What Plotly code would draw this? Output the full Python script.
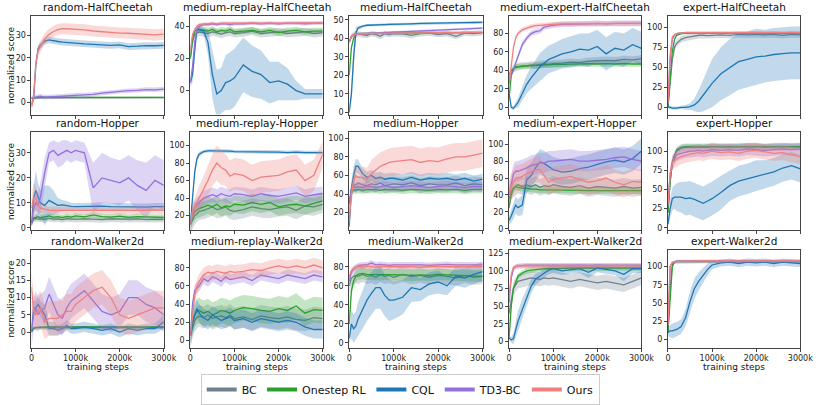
import plotly.graph_objects as go

# training steps (in thousands) at which every curve is sampled
STEPS_K = [0, 50, 100, 150, 200, 300, 400, 500, 600, 700, 800, 900, 1000,
           1200, 1400, 1600, 1800, 2000, 2200, 2400, 2600, 2800, 3000]

METHODS = ["BC", "Onestep RL", "CQL", "TD3-BC", "Ours"]
X_TICKS = [0, 1000, 2000, 3000]
X_TICK_TEXT = ["0", "1000k", "2000k", "3000k"]

# ---------------- HalfCheetah ----------------
random_halfcheetah = {
    "BC": [2.0, 2.1, 2.2, 2.2, 2.2, 2.3, 2.2, 2.2, 2.3, 2.2, 2.2, 2.3, 2.2, 2.2, 2.3, 2.2, 2.2, 2.3, 2.2, 2.2, 2.3, 2.2, 2.2],
    "Onestep RL": [2.0, 2.2, 2.3, 2.3, 2.3, 2.3, 2.3, 2.3, 2.3, 2.3, 2.3, 2.3, 2.3, 2.3, 2.3, 2.3, 2.3, 2.3, 2.3, 2.3, 2.3, 2.3, 2.3],
    "CQL": [-1.0, 2.0, 17.0, 24.0, 25.5, 27.5, 28.0, 27.8, 27.3, 27.0, 26.8, 26.6, 26.5, 26.2, 26.0, 25.8, 25.6, 25.8, 25.0, 25.2, 25.5, 25.4, 25.6],
    "TD3-BC": [2.0, 2.2, 2.3, 2.5, 2.8, 2.4, 2.6, 2.5, 2.7, 2.8, 3.0, 3.0, 3.2, 3.4, 3.6, 4.2, 4.6, 5.0, 5.3, 5.4, 5.8, 5.7, 6.0],
    "Ours": [-2.0, 2.5, 17.5, 23.0, 25.0, 28.5, 30.5, 31.8, 32.6, 33.0, 33.0, 32.9, 32.8, 32.5, 32.0, 31.6, 31.5, 31.1, 31.0, 30.8, 30.5, 30.3, 30.6],
}
random_halfcheetah_sd = {"BC": 0.3, "Onestep RL": 0.4, "CQL": 1.5, "TD3-BC": 1.0, "Ours": 2.5}

medium_replay_halfcheetah = {
    "BC": [20, 30, 35, 36, 36.5, 36, 35.5, 36.5, 36, 35, 36, 36.5, 35.5, 36, 37, 35.5, 36, 36.5, 35.5, 36, 36.5, 35.5, 36],
    "Onestep RL": [20, 33, 37, 38, 38, 37.5, 37, 38, 36.5, 37.5, 37, 38, 36.5, 37, 37.5, 36.5, 37.5, 36, 37, 37.5, 36.5, 37, 37],
    "CQL": [5, 10, 25, 38, 38, 37, 30, 10, -2, 0, 5, 6, 8, 16, 12, 10, 5, 6, 4, 0, -2, -2, -2],
    "TD3-BC": [5, 15, 30, 38, 40, 41, 41, 41.5, 41, 41.5, 41.5, 41, 41.5, 41.5, 42, 41.5, 42, 41.5, 42, 42, 41.5, 42, 42],
    "Ours": [25, 35, 38, 40, 41, 41.5, 41.5, 42, 41.5, 42, 42, 42, 41.8, 42, 42, 42.2, 42, 42.2, 42, 42, 42.3, 42, 42.2],
}
medium_replay_halfcheetah_sd = {
    "BC": 2.5, "Onestep RL": 2, "TD3-BC": 1, "Ours": 1,
    "CQL": [3, 5, 5, 2, 2, 2, 8, 15, 15, 14, 17, 18, 18, 17, 16, 15, 13, 12, 10, 6, 3, 3, 3],
}

medium_halfcheetah = {
    "BC": [38, 41, 42, 42.5, 42.3, 42, 41.5, 42.5, 42, 41, 42.5, 42, 42.5, 42.3, 41.5, 42.5, 42.8, 42, 42.5, 41, 42.8, 42.5, 43],
    "Onestep RL": [20, 35, 40, 42, 42.5, 42.5, 42.6, 42.6, 42.7, 42.7, 42.7, 42.8, 42.8, 42.8, 42.9, 42.9, 42.9, 43, 43, 43, 43, 43, 43],
    "CQL": [0, 10, 30, 43, 45.5, 46.5, 47, 47, 47.2, 47.3, 47.4, 47.5, 47.5, 47.6, 47.8, 48, 48, 48, 48.2, 48.3, 48.4, 48.5, 48.6],
    "TD3-BC": [38, 41, 42, 42.2, 42.3, 42.5, 42.6, 42.7, 42.8, 42.9, 43, 43.1, 43.2, 43.4, 43.6, 43.8, 44, 44.2, 44.4, 44.7, 45, 45.3, 45.5],
    "Ours": [38, 41, 42, 42.3, 42.4, 42.5, 42.5, 42.6, 42.6, 42.7, 42.7, 42.7, 42.8, 42.8, 42.8, 42.9, 42.9, 43, 43, 43, 43.1, 43.1, 43.2],
}
medium_halfcheetah_sd = {
    "BC": 1.5, "Onestep RL": 0.6, "TD3-BC": 0.6, "Ours": 0.6,
    "CQL": [1, 4, 6, 3, 1, 0.7, 0.7, 0.7, 0.7, 0.7, 0.7, 0.7, 0.7, 0.7, 0.7, 0.7, 0.7, 0.7, 0.7, 0.7, 0.7, 0.7, 0.7],
}

medium_expert_halfcheetah = {
    "BC": [35, 40, 42, 43, 44, 45, 45, 46, 45.5, 46.5, 47, 46.5, 47.5, 48, 49, 48.5, 50, 50.5, 51, 50.5, 52, 51.5, 52.5],
    "Onestep RL": [10, 35, 42, 44, 44, 44.5, 45, 45, 45.5, 45.5, 46, 46, 46.5, 46.5, 47, 47, 47.5, 47, 47.5, 47, 47.5, 47, 47],
    "CQL": [15, 0, -1, 2, 5, 15, 25, 32, 38, 44, 48, 52, 54, 58, 60, 63, 62, 66, 58, 64, 62, 68, 64],
    "TD3-BC": [30, 35, 40, 48, 55, 68, 75, 80, 82, 83, 87, 88, 89, 90, 90, 90.5, 90.5, 91, 90.5, 91, 91, 91, 91],
    "Ours": [25, 45, 65, 75, 80, 84, 86, 87.5, 88.5, 89, 89.5, 90, 90, 90.5, 90.5, 91, 90.5, 91, 91, 91, 90.5, 91, 91],
}
medium_expert_halfcheetah_sd = {
    "BC": 4, "Onestep RL": 3, "TD3-BC": 3, "Ours": 2.5,
    "CQL": [3, 2, 2, 3, 5, 8, 10, 12, 14, 15, 15, 15, 15, 16, 17, 17, 18, 18, 18, 18, 18, 18, 18],
}

expert_halfcheetah = {
    "BC": [0, 30, 60, 75, 80, 85, 87, 88, 89, 90, 90, 89.5, 90, 90.5, 90, 91, 90.5, 91, 90.5, 91, 90, 91, 90.5],
    "Onestep RL": [0, 35, 70, 85, 90, 92, 92.5, 93, 93, 93, 93, 93, 93, 93, 93, 93, 93, 93, 93, 93, 93, 93, 93],
    "CQL": [1, 0, -1, -1, -1, 0, 0, 1, 3, 8, 15, 22, 30, 42, 50, 57, 60, 63, 64, 66, 67, 68, 68],
    "TD3-BC": [5, 60, 85, 90, 92, 93, 93, 93, 93, 93, 93, 93, 93, 93, 93, 93, 93, 93, 93, 93, 93, 93, 93],
    "Ours": [5, 65, 88, 91, 92, 93, 93.5, 93.5, 93.5, 93.5, 93.5, 93.5, 93.5, 93.5, 93.5, 93.5, 93.5, 93.5, 93.5, 93.5, 93.5, 93.5, 93.5],
}
expert_halfcheetah_sd = {
    "BC": 4, "Onestep RL": 1, "TD3-BC": 1, "Ours": 1,
    "CQL": [2, 2, 2, 2, 2, 2, 3, 4, 8, 14, 20, 25, 30, 33, 35, 35, 35, 35, 33, 33, 33, 33, 33],
}

# ---------------- Hopper ----------------
random_hopper = {
    "BC": [2, 3.5, 3.8, 3.5, 3.6, 3.4, 3.8, 3.5, 3.6, 3.3, 3.7, 3.5, 3.4, 3.6, 3.5, 3.3, 3.6, 3.4, 3.5, 3.6, 3.3, 3.5, 3.4],
    "Onestep RL": [2, 4, 4.2, 4.5, 4, 4.3, 4.8, 4.2, 4.5, 4.1, 4.6, 4.3, 4.8, 4.4, 5.2, 4.5, 4.3, 4.7, 4.2, 4.5, 4.4, 4.1, 4.2],
    "CQL": [2, 12, 15, 12, 10, 9, 11, 10, 9, 9.2, 8.8, 8.6, 8.5, 8.6, 8.4, 8.7, 8.5, 8.4, 8.6, 8.5, 8.3, 8.5, 8.5],
    "TD3-BC": [1, 8, 10, 9, 12, 22, 30, 31, 29, 30, 31, 30, 31, 30, 16, 20, 19, 18, 20, 17, 15, 19, 17],
    "Ours": [8, 12, 12, 9, 8, 7.5, 7, 7, 7, 7, 6.8, 6.9, 7, 6.8, 6.8, 7, 6.8, 6.9, 7, 6.8, 7, 7.2, 7],
}
random_hopper_sd = {
    "BC": 1.2, "Onestep RL": 1.2,
    "CQL": [1, 5, 8, 6, 5, 8, 6, 5, 3, 2, 2, 1.5, 1.5, 1.5, 1.5, 1.5, 1.5, 1.5, 1.5, 1.5, 1.5, 1.5, 1.5],
    "TD3-BC": [1, 3, 5, 5, 6, 6, 4, 4, 5, 5, 4, 4, 4, 4, 10, 10, 9, 9, 9, 10, 11, 10, 10],
    "Ours": [4, 6, 5, 3, 2, 1.5, 1.5, 1.5, 1.5, 1.5, 1.5, 1.5, 1.5, 1.5, 1.5, 1.5, 1.5, 1.5, 1.5, 1.5, 1.5, 1.5, 1.5],
}

medium_replay_hopper = {
    "BC": [10, 15, 20, 22, 25, 26, 28, 30, 27, 28, 30, 26, 25, 27, 30, 28, 27, 29, 30, 26, 31, 30, 33],
    "Onestep RL": [10, 20, 25, 27, 28, 30, 32, 30, 33, 29, 31, 30, 33, 32, 35, 33, 35, 30, 32, 33, 31, 34, 37],
    "CQL": [10, 40, 70, 85, 90, 93, 94, 94, 94, 94, 93.5, 93.5, 93, 93, 93, 92.5, 92.5, 92.5, 92, 92.5, 92, 92, 92],
    "TD3-BC": [10, 25, 30, 33, 35, 40, 42, 44, 42, 45, 43, 42, 45, 44, 42, 45, 43, 42, 44, 46, 42, 44, 45],
    "Ours": [10, 25, 30, 35, 40, 50, 60, 72, 80, 75, 72, 65, 68, 66, 60, 64, 65, 66, 70, 72, 60, 66, 90],
}
medium_replay_hopper_sd = {
    "BC": 10, "Onestep RL": 10, "TD3-BC": 8,
    "CQL": [3, 6, 6, 4, 3, 2, 2, 2, 2, 2, 2, 2, 2, 2, 2, 2, 2, 2, 2, 2, 2, 2, 2],
    "Ours": [5, 8, 10, 12, 14, 15, 18, 18, 20, 20, 18, 18, 18, 18, 18, 18, 18, 18, 18, 18, 18, 18, 15],
}

medium_hopper = {
    "BC": [30, 45, 50, 50, 52, 50, 49, 51, 50, 52, 49, 50, 51, 50, 52, 49, 51, 50, 50, 52, 49, 51, 50],
    "Onestep RL": [30, 42, 45, 44, 45, 44, 45, 44.5, 45, 44, 45, 44.5, 45, 44, 45, 44.5, 44, 45, 44.5, 45, 44, 45, 45],
    "CQL": [5, 45, 60, 70, 70, 62, 58, 60, 57, 58, 56, 57, 57, 55, 58, 55, 57, 56, 57, 55, 57, 54, 56],
    "TD3-BC": [30, 45, 48, 47, 48, 47, 49, 48, 47, 48, 49, 48, 47, 48, 49, 48, 47, 48, 49, 48, 47, 48, 48],
    "Ours": [10, 40, 55, 60, 58, 58, 56, 62, 66, 70, 72, 74, 75, 76, 77, 74, 76, 75, 78, 80, 80, 82, 84],
}
medium_hopper_sd = {
    "BC": 8, "Onestep RL": 4, "TD3-BC": 5,
    "CQL": [5, 10, 10, 8, 7, 6, 6, 6, 6, 6, 6, 6, 6, 6, 6, 6, 6, 6, 6, 6, 6, 6, 6],
    "Ours": [5, 10, 10, 10, 10, 12, 12, 15, 15, 15, 15, 15, 15, 15, 15, 15, 15, 15, 15, 15, 15, 15, 15],
}

medium_expert_hopper = {
    "BC": [35, 45, 48, 50, 52, 50, 52, 50, 52, 49, 51, 50, 52, 50, 49, 51, 48, 50, 49, 48, 50, 48, 49],
    "Onestep RL": [25, 40, 48, 50, 49, 48, 48, 47, 47, 46, 46, 46, 46, 46, 45.5, 45.5, 45, 45, 45, 45, 45, 45, 45],
    "CQL": [10, 15, 22, 28, 25, 28, 58, 63, 72, 79, 77, 74, 70, 67, 68, 71, 73, 76, 79, 81, 79, 83, 92],
    "TD3-BC": [40, 55, 65, 68, 68, 70, 72, 75, 76, 78, 78, 80, 80, 81, 82, 80, 80, 81, 82, 84, 85, 82, 80],
    "Ours": [40, 50, 55, 60, 60, 62, 65, 68, 70, 70, 62, 55, 58, 60, 62, 58, 55, 57, 60, 55, 52, 56, 55],
}
medium_expert_hopper_sd = {
    "BC": 10, "Onestep RL": 4, "TD3-BC": 12, "Ours": 15,
    "CQL": [5, 8, 10, 10, 10, 12, 15, 15, 15, 15, 15, 15, 15, 15, 15, 15, 15, 15, 15, 15, 15, 15, 15],
}

expert_hopper = {
    "BC": [20, 60, 85, 95, 100, 104, 105, 105, 105.5, 105, 105.5, 105, 106, 105.5, 105, 106, 105.5, 106, 105, 106, 105.5, 106, 105.5],
    "Onestep RL": [20, 60, 85, 95, 102, 105, 106, 106, 106, 106, 106, 106, 106, 106, 106, 106, 106, 106, 106, 106, 106, 106, 106],
    "CQL": [5, 25, 38, 40, 40, 40, 38, 39, 37, 34, 32, 35, 38, 46, 55, 61, 64, 68, 70, 73, 78, 81, 77],
    "TD3-BC": [30, 70, 85, 90, 95, 97, 99, 100, 100, 101, 100, 101, 102, 101, 102, 101, 103, 102, 101, 102, 103, 102, 103],
    "Ours": [30, 70, 85, 88, 90, 93, 95, 96, 97, 98, 97, 99, 100, 98, 99, 97, 100, 101, 99, 97, 98, 95, 93],
}
expert_hopper_sd = {
    "BC": 5, "Onestep RL": 3, "TD3-BC": 8, "Ours": 10,
    "CQL": [3, 12, 15, 15, 18, 20, 22, 22, 22, 22, 22, 22, 22, 22, 20, 20, 20, 20, 18, 18, 18, 18, 18],
}

# ---------------- Walker2d ----------------
random_walker2d = {
    "BC": [0.5, 1.2, 1.3, 1.3, 1.3, 1.3, 1.3, 1.3, 1.3, 1.3, 1.3, 1.3, 1.3, 1.3, 1.3, 1.3, 1.3, 1.3, 1.3, 1.3, 1.3, 1.3, 1.3],
    "Onestep RL": [0, 1.0, 1.3, 1.4, 1.4, 1.5, 1.5, 1.5, 1.5, 1.5, 1.5, 1.5, 1.5, 1.5, 1.5, 1.5, 1.5, 1.5, 1.5, 1.5, 1.5, 1.5, 1.5],
    "CQL": [0, 7, 7, 8, 7, 5, 1, 1, 0.5, 1, 2, 1, 1, 1.5, 1, 0.5, 1, 0, 1, 0.5, 1, 1, 3],
    "TD3-BC": [1, 5, 7, 5, 6, 7, 11, 8, 5, 4, 7, 9, 10, 12, 9, 6, 5, 6, 10, 10, 8, 7, 5],
    "Ours": [13, 6, 5, 6, 7, 3, 4, 4, 4, 5, 6, 6, 8, 10, 12, 13, 10, 5, 4, 5, 6, 7, 7],
}
random_walker2d_sd = {
    "BC": 0.5, "Onestep RL": 0.3, "TD3-BC": 5, "Ours": 5,
    "CQL": [0.5, 2, 2, 2, 2, 3, 2, 2, 1.5, 1.5, 1.5, 1.5, 1.5, 1.5, 1.5, 1.5, 1.5, 1.5, 1.5, 1.5, 1.5, 1.5, 2],
}

medium_replay_walker2d = {
    "BC": [5, 15, 22, 25, 27, 25, 28, 24, 26, 27, 25, 28, 24, 26, 23, 27, 25, 24, 26, 23, 22, 25, 24],
    "Onestep RL": [5, 20, 28, 32, 33, 30, 32, 28, 30, 33, 32, 30, 33, 36, 35, 33, 32, 35, 33, 38, 30, 34, 33],
    "CQL": [5, 20, 28, 35, 30, 25, 22, 28, 25, 22, 24, 26, 22, 24, 20, 24, 22, 20, 22, 20, 15, 12, 12],
    "TD3-BC": [5, 40, 55, 58, 60, 68, 65, 70, 68, 65, 70, 67, 68, 70, 66, 72, 70, 68, 72, 70, 68, 72, 70],
    "Ours": [5, 30, 50, 60, 65, 72, 75, 74, 76, 75, 74, 76, 75, 76, 78, 77, 80, 82, 80, 82, 80, 83, 80],
}
medium_replay_walker2d_sd = {"BC": 12, "Onestep RL": 14, "CQL": 10, "TD3-BC": 6, "Ours": 8}

medium_walker2d = {
    "BC": [60, 68, 70, 71, 70, 72, 70, 71, 69, 72, 70, 71, 69, 72, 70, 71, 69, 71, 70, 68, 71, 69, 70],
    "Onestep RL": [20, 55, 65, 70, 72, 73, 72, 72, 72, 71.5, 72, 72, 72, 71.5, 71, 71.5, 71, 72, 71.5, 71, 71, 70.5, 70],
    "CQL": [5, 20, 15, 18, 25, 35, 45, 52, 58, 58, 50, 45, 45, 48, 58, 56, 62, 64, 60, 70, 68, 72, 75],
    "TD3-BC": [65, 75, 78, 80, 81, 82, 82, 84, 82, 82.5, 82, 81.5, 82, 82, 82.5, 82, 81.5, 82, 82.5, 82, 82, 82.5, 82],
    "Ours": [70, 76, 78, 79, 80, 80, 80.5, 80, 79.5, 80, 80.5, 80, 80, 80.5, 80, 79.5, 80, 80.5, 80, 80, 80.5, 80, 80],
}
medium_walker2d_sd = {
    "BC": 8, "Onestep RL": 6, "TD3-BC": 3, "Ours": 3,
    "CQL": [5, 15, 15, 15, 18, 20, 22, 22, 22, 22, 22, 22, 20, 18, 15, 12, 12, 12, 10, 10, 10, 10, 10],
}

medium_expert_walker2d = {
    "BC": [40, 60, 75, 80, 85, 87, 88, 90, 89, 88, 90, 89, 90, 88, 85, 88, 86, 83, 85, 82, 80, 85, 90],
    "Onestep RL": [5, 50, 75, 85, 92, 97, 100, 101, 102, 103, 103, 103, 103.5, 103.5, 104, 104, 104, 104, 104, 104, 104, 104, 104],
    "CQL": [5, 2, 4, 15, 28, 45, 62, 78, 88, 93, 97, 101, 103, 100, 102, 103, 98, 104, 102, 100, 95, 103, 103],
    "TD3-BC": [55, 90, 103, 106, 107, 108, 108, 108, 108, 108, 108, 108, 108, 108, 108, 108, 108, 108, 108, 108, 108, 108, 108],
    "Ours": [60, 95, 105, 106, 107, 107, 107, 107, 107, 107, 107, 107, 107, 107, 107, 107, 107, 107, 107, 107, 107, 107, 107],
}
medium_expert_walker2d_sd = {
    "BC": 10, "Onestep RL": 4, "TD3-BC": 3, "Ours": 3,
    "CQL": [3, 4, 8, 12, 15, 15, 12, 10, 8, 7, 6, 6, 6, 6, 6, 6, 8, 6, 6, 6, 10, 6, 6],
}

expert_walker2d = {
    "BC": [10, 70, 102, 106, 107, 107, 107, 107, 107, 107, 107, 107, 107, 107, 107, 107, 107, 107, 107, 107, 107, 107, 107],
    "Onestep RL": [10, 60, 100, 106, 107, 107, 107, 107, 107, 107, 107, 107, 107, 107, 107, 107, 107, 107, 107, 107, 107, 107, 107],
    "CQL": [10, 12, 12, 13, 14, 18, 30, 52, 70, 80, 88, 96, 102, 105, 106, 104, 106, 105, 106, 104, 106, 105, 104],
    "TD3-BC": [20, 100, 105, 106, 107, 107, 107, 107, 107, 107, 107, 107, 107, 107, 107, 107, 107, 107, 107, 107, 107, 107, 107],
    "Ours": [20, 100, 106, 107, 107, 107, 107.5, 107.5, 107.5, 107.5, 107.5, 107.5, 107.5, 107.5, 107.5, 107.5, 107.5, 107.5, 107.5, 107.5, 107.5, 107.5, 107.5],
}
expert_walker2d_sd = {
    "BC": 2, "Onestep RL": 1.5, "TD3-BC": 1.5, "Ours": 1.5,
    "CQL": [5, 8, 10, 10, 10, 10, 12, 14, 14, 12, 10, 8, 6, 5, 5, 5, 5, 5, 5, 5, 5, 5, 5],
}

# panel titles, data and y ticks, row by row
PANELS = [
    ("random-HalfCheetah", random_halfcheetah, random_halfcheetah_sd, [0, 10, 20, 30]),
    ("medium-replay-HalfCheetah", medium_replay_halfcheetah, medium_replay_halfcheetah_sd, [0, 20, 40]),
    ("medium-HalfCheetah", medium_halfcheetah, medium_halfcheetah_sd, [0, 10, 20, 30, 40, 50]),
    ("medium-expert-HalfCheetah", medium_expert_halfcheetah, medium_expert_halfcheetah_sd, [0, 20, 40, 60, 80]),
    ("expert-HalfCheetah", expert_halfcheetah, expert_halfcheetah_sd, [0, 25, 50, 75, 100]),
    ("random-Hopper", random_hopper, random_hopper_sd, [0, 10, 20, 30]),
    ("medium-replay-Hopper", medium_replay_hopper, medium_replay_hopper_sd, [20, 40, 60, 80, 100]),
    ("medium-Hopper", medium_hopper, medium_hopper_sd, [20, 40, 60, 80, 100]),
    ("medium-expert-Hopper", medium_expert_hopper, medium_expert_hopper_sd, [0, 20, 40, 60, 80, 100]),
    ("expert-Hopper", expert_hopper, expert_hopper_sd, [0, 25, 50, 75, 100]),
    ("random-Walker2d", random_walker2d, random_walker2d_sd, [0, 5, 10, 15, 20]),
    ("medium-replay-Walker2d", medium_replay_walker2d, medium_replay_walker2d_sd, [0, 20, 40, 60, 80]),
    ("medium-Walker2d", medium_walker2d, medium_walker2d_sd, [0, 20, 40, 60, 80]),
    ("medium-expert-Walker2d", medium_expert_walker2d, medium_expert_walker2d_sd, [0, 25, 50, 75, 100, 125]),
    ("expert-Walker2d", expert_walker2d, expert_walker2d_sd, [0, 25, 50, 75, 100]),
]

# y ranges matched to the reference frames
Y_RANGES = [
    [-5.4, 38.8], [-14.9, 46.5], [-1.2, 52.1], [-7.8, 99.2], [-9, 114.3],
    [-0.9, 38.2], [3.5, 115], [1.2, 106.4], [-1.6, 114], [-3, 124.5],
    [-4.5, 23.8], [-8, 99.7], [-4.9, 97.7], [-8.9, 129.7], [-10.9, 122.6],
]

# ---------------- style ----------------
W, H = 830, 405
COLORS = {"BC": "#708090", "Onestep RL": "#2ca02c", "CQL": "#1f77b4",
          "TD3-BC": "#9370db", "Ours": "#f08080"}
FILLS = {"BC": "rgba(112,128,144,0.28)", "Onestep RL": "rgba(44,160,44,0.28)",
         "CQL": "rgba(31,119,180,0.28)", "TD3-BC": "rgba(147,112,219,0.30)",
         "Ours": "rgba(240,128,128,0.30)"}
COL_PX = [(29, 164), (191, 326), (353, 489), (516, 651), (678, 813)]
ROW_PX = [(15, 115), (133, 232), (252, 351)]
FONT = "DejaVu Sans"
AX_COLOR = "#444444"

fig = go.Figure()
annotations = []
n = len(STEPS_K)

for k, (title, means, sds, yticks) in enumerate(PANELS):
    r, c = divmod(k, 5)
    xa = "x" if k == 0 else f"x{k + 1}"
    ya = "y" if k == 0 else f"y{k + 1}"
    for m in METHODS:
        mean = means[m]
        assert len(mean) == n, (title, m)
        sd = sds[m] if isinstance(sds[m], list) else [sds[m]] * n
        upper = [a + b for a, b in zip(mean, sd)]
        lower = [a - b for a, b in zip(mean, sd)]
        fig.add_trace(go.Scatter(
            x=STEPS_K + STEPS_K[::-1], y=upper + lower[::-1],
            fill="toself", fillcolor=FILLS[m], line=dict(width=0),
            mode="lines", hoverinfo="skip", showlegend=False,
            xaxis=xa, yaxis=ya))
        fig.add_trace(go.Scatter(
            x=STEPS_K, y=mean, mode="lines",
            line=dict(color=COLORS[m], width=1.3),
            name=m, showlegend=False, xaxis=xa, yaxis=ya))

    x0, x1 = COL_PX[c]
    y0, y1 = ROW_PX[r]
    bottom = r == 2
    fig.layout[f"xaxis{k + 1}"] = dict(
        domain=[x0 / W, x1 / W], range=[0, 3000], anchor=ya,
        tickvals=X_TICKS, ticktext=X_TICK_TEXT, showticklabels=bottom,
        ticks="outside", ticklen=3, tickwidth=0.8, tickcolor=AX_COLOR,
        showline=True, mirror=True, linecolor=AX_COLOR, linewidth=1,
        showgrid=False, zeroline=False,
        tickfont=dict(size=8, color="#222"))
    fig.layout[f"yaxis{k + 1}"] = dict(
        domain=[1 - y1 / H, 1 - y0 / H], range=Y_RANGES[k], anchor=xa,
        tickvals=yticks, ticks="outside", ticklen=3, tickwidth=0.8,
        tickcolor=AX_COLOR, showline=True, mirror=True, linecolor=AX_COLOR,
        linewidth=1, showgrid=False, zeroline=False,
        tickfont=dict(size=8, color="#222"))

    annotations.append(dict(
        text=title, x=(x0 + x1) / 2 / W, y=1 - y0 / H, xref="paper", yref="paper",
        xanchor="center", yanchor="bottom", yshift=1, showarrow=False,
        font=dict(size=10.5, color="#111")))
    if c == 0:
        annotations.append(dict(
            text="normalized score", x=8 / W, y=1 - (y0 + y1) / 2 / H,
            xref="paper", yref="paper", textangle=-90, showarrow=False,
            xanchor="center", yanchor="middle", font=dict(size=9, color="#111")))
    if bottom:
        annotations.append(dict(
            text="training steps", x=(x0 + x1) / 2 / W, y=1 - 364 / H,
            xref="paper", yref="paper", showarrow=False, borderpad=0,
            xanchor="center", yanchor="top", font=dict(size=9, color="#111")))

# legend entries
for m in METHODS:
    fig.add_trace(go.Scatter(x=[None], y=[None], mode="lines", name=m,
                             line=dict(color=COLORS[m], width=4)))

fig.update_layout(
    width=W, height=H, margin=dict(l=0, r=0, t=0, b=0),
    paper_bgcolor="white", plot_bgcolor="white",
    font=dict(family=FONT, color="#111"),
    annotations=annotations,
    legend=dict(orientation="h", x=405 / W, y=1 - 378 / H,
                xanchor="center", yanchor="top",
                bordercolor="#cccccc", borderwidth=1,
                font=dict(size=11), itemwidth=30, tracegroupgap=0),
)

# the page body has a default 8px margin; drop it so the figure sits at (0, 0)
fig.write_html("out.html", config={"displayModeBar": False},
               post_script="document.body.style.margin = '0';")
